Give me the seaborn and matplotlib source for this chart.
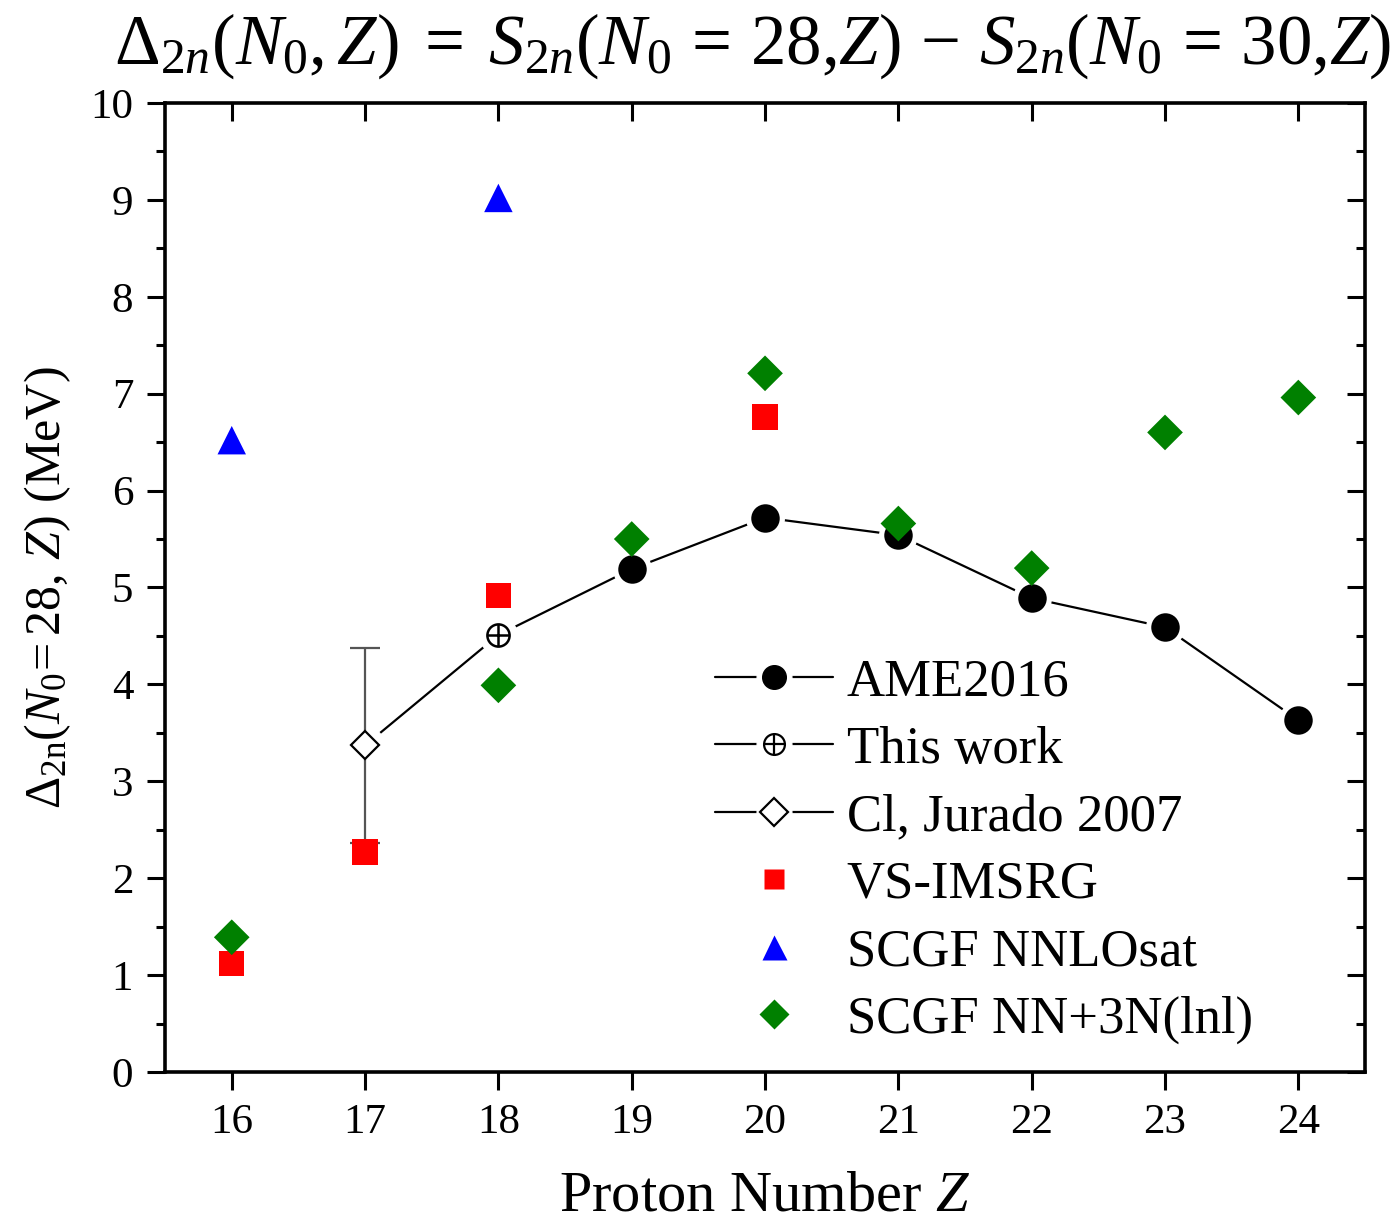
import matplotlib
matplotlib.use("Agg")
import matplotlib.pyplot as plt
from matplotlib.lines import Line2D
from matplotlib.legend_handler import HandlerTuple
from matplotlib.ticker import MultipleLocator
import seaborn as sns
import pandas as pd

# ---------------- data ----------------
z_line = [17, 18, 19, 20, 21, 22, 23, 24]
d_line = [3.37, 4.51, 5.19, 5.72, 5.54, 4.89, 4.59, 3.63]

z_ame = [19, 20, 21, 22, 23, 24]
d_ame = [5.19, 5.72, 5.54, 4.89, 4.59, 3.63]

z_this = [18]
d_this = [4.51]

z_jur = [17]
d_jur = [3.37]
e_jur = [1.01]

z_vs = [16, 17, 18, 20]
d_vs = [1.12, 2.27, 4.92, 6.76]

z_nnlo = [16, 18]
d_nnlo = [6.52, 9.02]

z_lnl = [16, 18, 19, 20, 21, 22, 23, 24]
d_lnl = [1.39, 3.99, 5.50, 7.21, 5.66, 5.20, 6.60, 6.96]

labels = ["AME2016", "This work", "Cl, Jurado 2007", "VS-IMSRG",
          "SCGF NNLOsat", "SCGF NN+3N(lnl)"]

# ---------------- style ----------------
sns.set_style("white")
plt.rcParams['font.family'] = ['Liberation Serif', 'DejaVu Serif']
plt.rcParams['mathtext.fontset'] = 'custom'
plt.rcParams['mathtext.rm'] = 'Liberation Serif'
plt.rcParams['mathtext.it'] = 'Liberation Serif:italic'
plt.rcParams['mathtext.bf'] = 'Liberation Serif:bold'
plt.rcParams['text.color'] = 'black'
plt.rcParams['axes.labelcolor'] = 'black'
plt.rcParams['xtick.color'] = 'black'
plt.rcParams['ytick.color'] = 'black'

fig = plt.figure(figsize=(13.99, 12.23), dpi=100)
ax = fig.add_axes([0.118, 0.1235, 0.8577, 0.7923])

df_line = pd.DataFrame({"Z": z_line, "D": d_line})
sns.lineplot(data=df_line, x="Z", y="D", ax=ax, color="black", lw=1.6,
             sort=False, zorder=2)

# white halos to create gaps in line around markers
ax.plot(z_line, d_line, ls='none', marker='o', ms=27, mfc='white',
        mec='white', zorder=3)

# error bar Jurado
ax.errorbar(z_jur, d_jur, yerr=e_jur, fmt='none', ecolor='#555555',
            elinewidth=1.6, capsize=11, capthick=1.6, zorder=3.5)

df_ame = pd.DataFrame({"Z": z_ame, "D": d_ame})
sns.scatterplot(data=df_ame, x="Z", y="D", ax=ax, marker='o', s=360,
                color='black', edgecolor='black', zorder=5)

# This work: circle with plus
ax.plot(z_this, d_this, ls='none', marker='o', ms=16, mfc='white',
        mec='black', mew=1.8, zorder=5)
ax.plot(z_this, d_this, ls='none', marker='+', ms=16, mec='black',
        mew=1.8, zorder=6)

# Jurado open diamond
ax.plot(z_jur, d_jur, ls='none', marker='D', ms=14, mfc='white',
        mec='black', mew=1.6, zorder=5)

df_vs = pd.DataFrame({"Z": z_vs, "D": d_vs})
sns.scatterplot(data=df_vs, x="Z", y="D", ax=ax, marker='s', s=330,
                color='#ff0000', edgecolor='none', zorder=6)
df_nn = pd.DataFrame({"Z": z_nnlo, "D": d_nnlo})
sns.scatterplot(data=df_nn, x="Z", y="D", ax=ax, marker='^', s=420,
                color='#0000ff', edgecolor='none', zorder=6)
df_lnl = pd.DataFrame({"Z": z_lnl, "D": d_lnl})
sns.scatterplot(data=df_lnl, x="Z", y="D", ax=ax, marker='D', s=330,
                color='#008000', edgecolor='none', zorder=7)

ax.set_xlim(15.5, 24.5)
ax.set_ylim(0, 10)
ax.xaxis.set_major_locator(MultipleLocator(1))
ax.yaxis.set_major_locator(MultipleLocator(1))
ax.yaxis.set_minor_locator(MultipleLocator(0.5))

for sp in ax.spines.values():
    sp.set_linewidth(2.6)
    sp.set_color('black')

ax.tick_params(axis='both', which='major', direction='out', length=13,
               width=2.2, labelsize=31, pad=10, colors='black')
ax.tick_params(axis='y', which='minor', direction='out', length=6.5,
               width=2.2, left=True)
ax.tick_params(axis='x', which='both', bottom=True)
ax.tick_params(axis='y', which='both', left=True)

secx = ax.secondary_xaxis('top')
secx.xaxis.set_major_locator(MultipleLocator(1))
secx.tick_params(direction='in', length=13, width=2.2, labeltop=False)
secy = ax.secondary_yaxis('right')
secy.yaxis.set_major_locator(MultipleLocator(1))
secy.yaxis.set_minor_locator(MultipleLocator(0.5))
secy.tick_params(which='major', direction='in', length=13, width=2.2,
                 labelright=False)
secy.tick_params(which='minor', direction='in', length=6.5, width=2.2)

ax.set_xlabel(r"Proton Number $Z$", fontsize=42, labelpad=20)
ax.set_ylabel(r"$\Delta_{\mathrm{2n}}(N_{\mathit{0}}\!=28,\, Z)$ (MeV)",
              fontsize=36, labelpad=12)
fig.text(0.538, 0.962,
         r"$\Delta_{2n}(N_0, Z)\; = \;S_{2n}(N_0\, =\, 28{,}Z)\, -\, S_{2n}(N_0\, =\, 30{,}Z)$",
         ha='center', va='center', fontsize=51)

# ---------------- legend ----------------
def lined(marker_handles):
    base = Line2D([], [], color='black', lw=1.6)
    halo = Line2D([], [], ls='none', marker='o', ms=25, mfc='white', mec='white')
    return (base, halo) + tuple(marker_handles)

h_ame = lined([Line2D([], [], ls='none', marker='o', ms=17, mfc='black', mec='black')])
h_this = lined([Line2D([], [], ls='none', marker='o', ms=15, mfc='white', mec='black', mew=1.6),
                Line2D([], [], ls='none', marker='+', ms=15, mec='black', mew=1.6)])
h_jur = lined([Line2D([], [], ls='none', marker='D', ms=14, mfc='white', mec='black', mew=1.6)])
h_vs = Line2D([], [], ls='none', marker='s', ms=14, mfc='#ff0000', mec='none')
h_nn = Line2D([], [], ls='none', marker='^', ms=18, mfc='#0000ff', mec='none')
h_lnl = Line2D([], [], ls='none', marker='D', ms=15, mfc='#008000', mec='none')

leg = ax.legend([h_ame, h_this, h_jur, h_vs, h_nn, h_lnl], labels,
                handler_map={tuple: HandlerTuple(ndivide=1, pad=0)},
                loc='upper left', bbox_to_anchor=(0.458, 0.427),
                frameon=False, fontsize=38, handlelength=2.25,
                handletextpad=0.25, labelspacing=0.37, borderpad=0,
                borderaxespad=0)

fig.savefig("out.png", dpi=100)
